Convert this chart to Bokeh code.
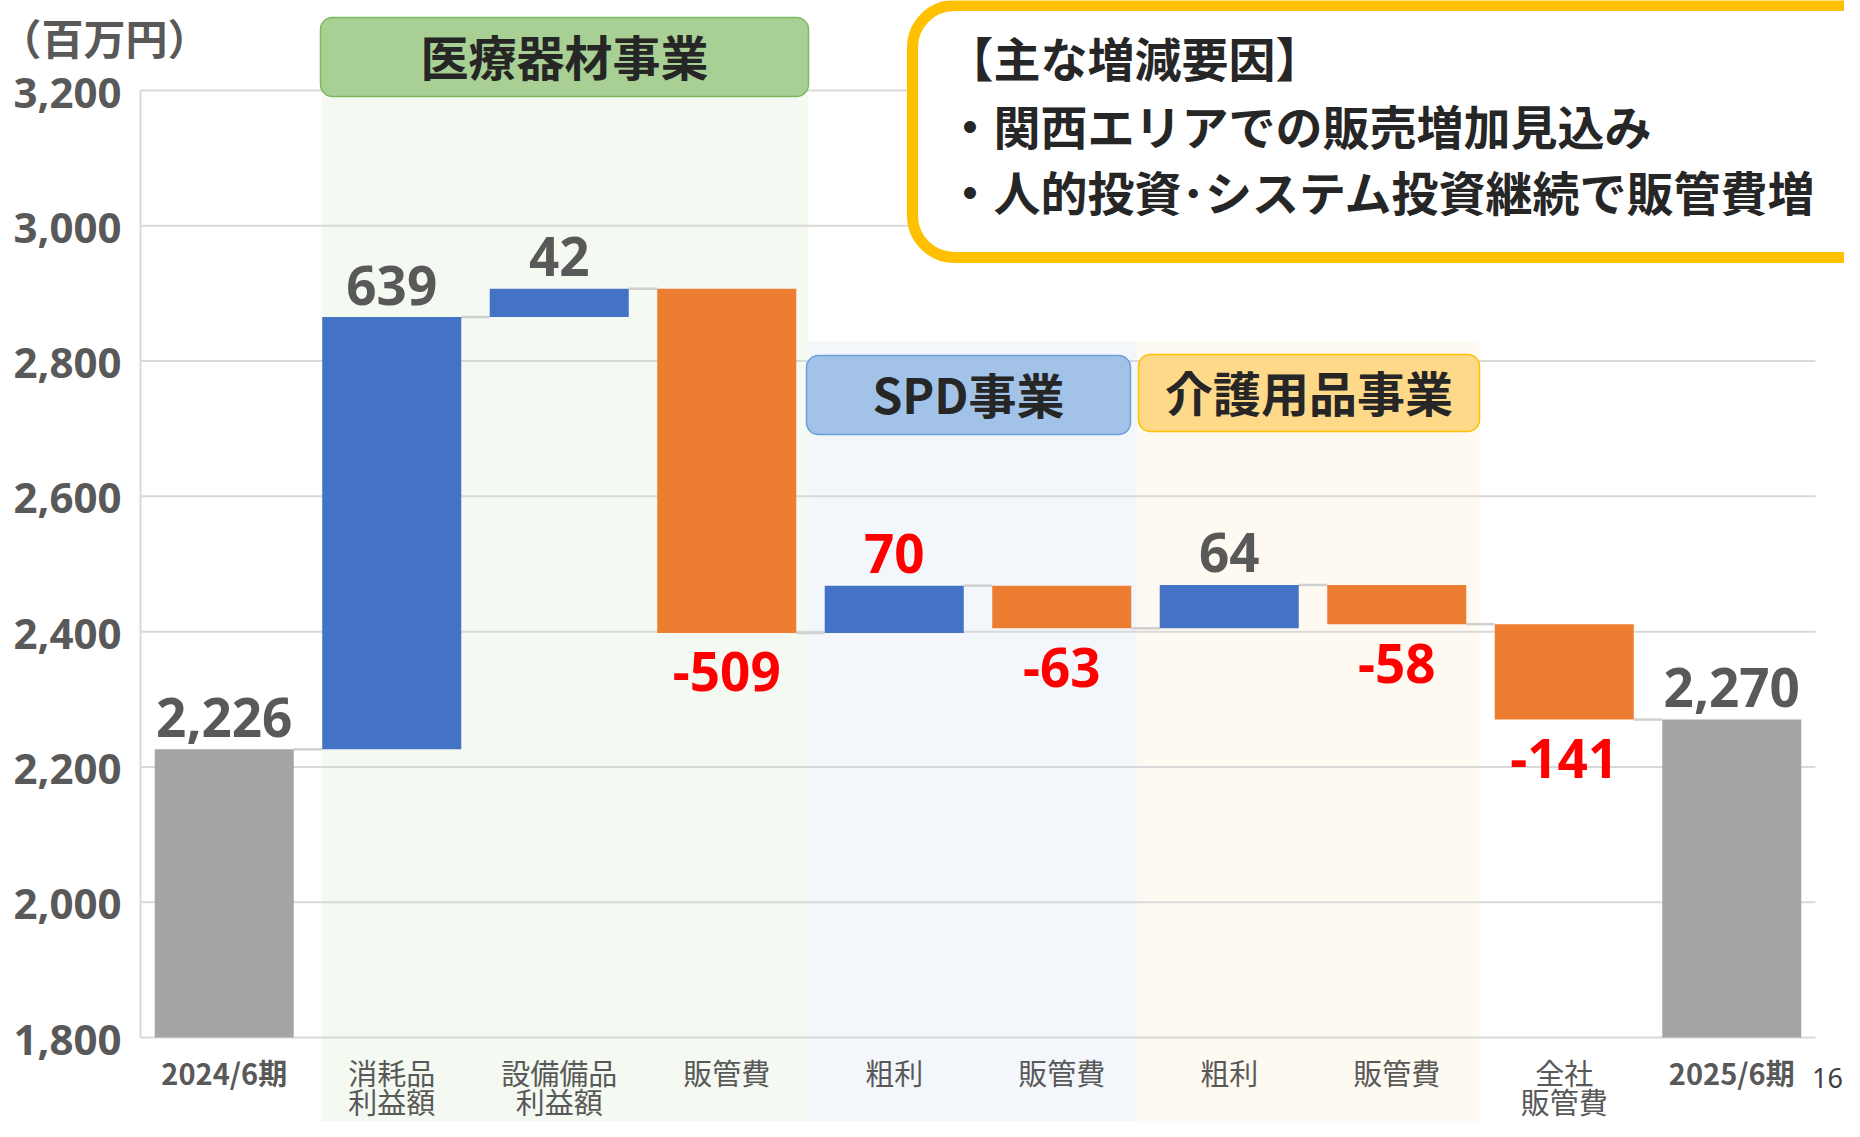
from bokeh.plotting import figure
from bokeh.models import Range1d, ColumnDataSource, BoxAnnotation, Label
from bokeh.core.properties import value
from bokeh.embed import file_html
from bokeh.resources import INLINE

# ---------------- data ----------------
categories = ["2024/6期", "消耗品\n利益額", "設備備品\n利益額", "販管費", "粗利",
              "販管費", "粗利", "販管費", "全社\n販管費", "2025/6期"]
changes = [2226, 639, 42, -509, 70, -63, 64, -58, -141, 2270]
bar_kind = ["total", "up", "up", "down", "up", "down", "up", "down", "down", "total"]
y_ticks = [1800, 2000, 2200, 2400, 2600, 2800, 3000, 3200]
unit_label = "（百万円）"
segment_names = ["医療器材事業", "SPD事業", "介護用品事業"]
note_title = "【主な増減要因】"
note_lines = ["・関西エリアでの販売増加見込み", "・人的投資･システム投資継続で販管費増"]
page_number = "16"

# ---------------- layout helpers (page pixel -> data) ----------------
W, H = 1844, 1121
X0_PAGE, PX_PER_X = 140, 167.5
PPU = (1037 - 90) / (y_ticks[-1] - y_ticks[0])


def X(px):
    return (px - X0_PAGE) / PX_PER_X


def Y(py):
    return y_ticks[-1] - (py - 90) / PPU


BAR_W = 0.83
COL = {"total": "#A5A5A5", "up": "#4472C4", "down": "#ED7D31"}
GRAY_TXT = "#595959"
RED_TXT = "#FF0000"
red_label_idx = {3, 4, 5, 7, 8}
CJK = "Noto Sans CJK JP"

# ---------------- waterfall geometry from data ----------------
base = y_ticks[0]
xs, bottoms, tops, ends = [], [], [], []
level = 0
for i, (v, k) in enumerate(zip(changes, bar_kind)):
    xs.append(i + 0.5)
    if k == "total":
        b, t = base, v
        level = v
    else:
        start = level
        level = level + v
        b, t = min(start, level), max(start, level)
    bottoms.append(b)
    tops.append(t)
    ends.append(level)

bars = ColumnDataSource(dict(
    x=xs, bottom=bottoms, top=tops,
    color=[COL[k] for k in bar_kind],
))

lab_y, lab_off, lab_txt, lab_col = [], [], [], []
for i, (v, k) in enumerate(zip(changes, bar_kind)):
    if k == "down":
        lab_y.append(bottoms[i]); lab_off.append(39)
    else:
        lab_y.append(tops[i]); lab_off.append(-32)
    lab_txt.append(f"{v:,}" if k == "total" else str(v))
    lab_col.append(RED_TXT if i in red_label_idx else GRAY_TXT)
labels = ColumnDataSource(dict(x=xs, y=lab_y, off=lab_off, text=lab_txt, color=lab_col))

# ---------------- figure ----------------
p = figure(width=W, height=H, output_backend="svg", toolbar_location=None,
           x_range=Range1d(X(0), X(W)), y_range=Range1d(Y(H), Y(0)),
           x_axis_location=None, y_axis_location=None,
           min_border_left=0, min_border_right=0, min_border_top=0, min_border_bottom=0)
p.outline_line_color = None
p.grid.visible = False

# background bands
p.quad(left=[X(321), X(808), X(1137)], right=[X(808), X(1137), X(1479)],
       bottom=[Y(H)] * 3, top=[Y(95), Y(341), Y(341)],
       fill_color=["#F4F9F1", "#F3F7FB", "#FEF9F1"], line_color=None)

# gridlines + value axis line
p.segment(x0=[X(140)] * len(y_ticks), x1=[X(1815)] * len(y_ticks), y0=y_ticks, y1=y_ticks,
          line_color="#D9D9D9", line_width=2)
p.segment(x0=[0], x1=[0], y0=[y_ticks[0]], y1=[y_ticks[-1]], line_color="#D9D9D9", line_width=2)

# value-axis tick labels
p.text(x=[X(121)] * len(y_ticks), y=y_ticks, text=[f"{t:,}" for t in y_ticks],
       y_offset=2, text_color=GRAY_TXT, text_font=value("Noto Sans"), text_font_style="bold",
       text_font_size="42px", text_align="right", text_baseline="middle")

# connectors
p.segment(x0=[xs[i] + BAR_W / 2 for i in range(len(xs) - 1)],
          x1=[xs[i + 1] - BAR_W / 2 for i in range(len(xs) - 1)],
          y0=ends[:-1], y1=ends[:-1], line_color="#D0D0D0", line_width=2.5)

# bars
p.vbar(x="x", width=BAR_W, bottom="bottom", top="top", fill_color="color",
       line_color=None, source=bars)

# value labels
p.text(x="x", y="y", text="text", y_offset="off", text_color="color", source=labels,
       text_font=value("Noto Sans"), text_font_style="bold", text_font_size="53px",
       text_align="center", text_baseline="middle")

# category labels
for bold in (True, False):
    l1x, l1t, l2x, l2t = [], [], [], []
    for i, c in enumerate(categories):
        if (bar_kind[i] == "total") != bold:
            continue
        parts = c.split("\n")
        l1x.append(xs[i]); l1t.append(parts[0])
        if len(parts) > 1:
            l2x.append(xs[i]); l2t.append(parts[1])
    style = "bold" if bold else "normal"
    p.text(x=l1x, y=[Y(1071)] * len(l1x), text=l1t, text_color=GRAY_TXT,
           text_font=value(CJK), text_font_style=style, text_font_size="29px",
           text_align="center", text_baseline="middle")
    if l2x:
        p.text(x=l2x, y=[Y(1100)] * len(l2x), text=l2t, text_color=GRAY_TXT,
               text_font=value(CJK), text_font_style=style, text_font_size="29px",
               text_align="center", text_baseline="middle")

# unit label
p.text(x=[X(104)], y=[Y(36)], text=[unit_label], text_color=GRAY_TXT,
       text_font=value(CJK), text_font_style="bold", text_font_size="42px",
       text_align="center", text_baseline="middle")

# segment header boxes
hdr = [
    (320, 808, 17, 96, "#A9D094", "#7FB85F"),
    (806, 1130, 355, 434, "#A3C2E8", "#6A9FD8"),
    (1138, 1479, 354, 431, "#FFD98A", "#FFC000"),
]
for (l, r, t, b, fc, lc), name in zip(hdr, segment_names):
    p.add_layout(BoxAnnotation(left=X(l), right=X(r), top=Y(t), bottom=Y(b),
                               fill_color=fc, fill_alpha=1, line_color=lc, line_alpha=1,
                               line_width=1.5, border_radius=12))
for (l, r, t, b, fc, lc), name in zip(hdr, segment_names):
    p.add_layout(Label(x=X((l + r) / 2), y=Y((t + b) / 2 - 2), text=name,
                       text_font=CJK, text_font_style="bold",
                       text_font_size="48px", text_color="#262626",
                       text_align="center", text_baseline="middle"))

# callout box
p.add_layout(BoxAnnotation(left=X(912), right=X(1920), top=Y(5), bottom=Y(257),
                           fill_color="white", fill_alpha=1, line_color="#FFC000",
                           line_alpha=1, line_width=11, border_radius=42))
for txt, py in zip([note_title] + note_lines, [56, 124, 190]):
    p.add_layout(Label(x=X(946), y=Y(py), text=txt,
                       text_font=CJK, text_font_style="bold",
                       text_font_size="47px", text_color="#262626",
                       text_align="left", text_baseline="middle"))

# page number
p.add_layout(Label(x=X(1827), y=Y(1077), text=page_number,
                   text_font="Noto Sans", text_font_size="27px", text_color="#404040",
                   text_align="center", text_baseline="middle"))

open("out.html", "w").write(file_html(p, INLINE))
